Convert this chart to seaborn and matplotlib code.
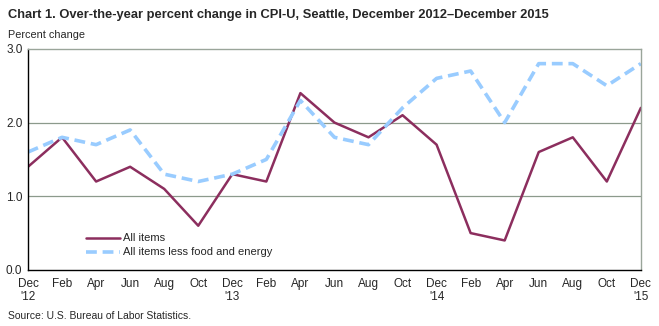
import matplotlib
matplotlib.use("Agg")
import matplotlib.pyplot as plt
import seaborn as sns
import pandas as pd

# Bimonthly observations, December 2012 through December 2015
months = ["Dec\n'12", "Feb", "Apr", "Jun", "Aug", "Oct",
          "Dec\n'13", "Feb", "Apr", "Jun", "Aug", "Oct",
          "Dec\n'14", "Feb", "Apr", "Jun", "Aug", "Oct",
          "Dec\n'15"]
all_items = [1.4, 1.8, 1.2, 1.4, 1.1, 0.6, 1.3, 1.2, 2.4, 2.0,
             1.8, 2.1, 1.7, 0.5, 0.4, 1.6, 1.8, 1.2, 2.2]
core_items = [1.6, 1.8, 1.7, 1.9, 1.3, 1.2, 1.3, 1.5, 2.3, 1.8,
              1.7, 2.2, 2.6, 2.7, 2.0, 2.8, 2.8, 2.5, 2.8]
series_names = ["All items", "All items less food and energy"]
y_ticks = [0.0, 1.0, 2.0, 3.0]

sns.set_style("white")
plt.rcParams["font.family"] = ["Liberation Sans", "DejaVu Sans"]

df = pd.DataFrame({
    "pos": list(range(len(months))) * 2,
    "value": all_items + core_items,
    "series": [series_names[0]] * len(months) + [series_names[1]] * len(months),
})

fig = plt.figure(figsize=(6.59, 3.26), dpi=100)
ax = fig.add_axes([0.0425, 0.172, 0.930, 0.678])

palette = {series_names[0]: "#8C2E5E", series_names[1]: "#99CCFF"}
sns.lineplot(data=df, x="pos", y="value", hue="series", style="series",
             palette=palette, dashes={series_names[0]: "", series_names[1]: (3, 1.6)},
             ax=ax, legend=False)
ax.lines[0].set_linewidth(1.8)
ax.lines[1].set_linewidth(2.6)

ax.set_xlim(0, len(months) - 1)
ax.set_ylim(0, 3.0)
ax.set_xticks(range(len(months)))
ax.set_xticklabels(months, fontsize=8.5, linespacing=1.05)
ax.set_yticks(y_ticks)
ax.set_yticklabels([f"{v:.1f}" for v in y_ticks], fontsize=8.5)
ax.set_xlabel("")
ax.set_ylabel("")

for v in [1.0, 2.0]:
    ax.axhline(v, color="#8C9A8C", lw=0.9, zorder=0)

for side in ["top", "right"]:
    ax.spines[side].set_color("#9AA59A")
    ax.spines[side].set_linewidth(1.0)
for side in ["left", "bottom"]:
    ax.spines[side].set_color("black")
    ax.spines[side].set_linewidth(1.0)

ax.tick_params(axis="x", direction="out", length=4, width=1, color="black", pad=2)
ax.tick_params(axis="y", length=0, pad=4)

# Legend entries
ax.plot([1.7, 2.7], [0.44, 0.44], color=palette[series_names[0]], lw=1.8)
ax.plot([1.7, 2.7], [0.24, 0.24], color=palette[series_names[1]], lw=2.6, dashes=(3, 1.6))
ax.text(2.8, 0.44, series_names[0], fontsize=8, va="center")
ax.text(2.8, 0.24, series_names[1], fontsize=8, va="center")

fig.text(0.012, 0.955, "Chart 1. Over-the-year percent change in CPI-U, Seattle, December 2012\u2013December 2015",
         fontsize=9.3, fontweight="bold", va="center")
fig.text(0.012, 0.893, "Percent change", fontsize=7.8, va="center")
fig.text(0.012, 0.03, "Source: U.S. Bureau of Labor Statistics.", fontsize=7.5, va="center")

fig.savefig("out.png", dpi=100)
